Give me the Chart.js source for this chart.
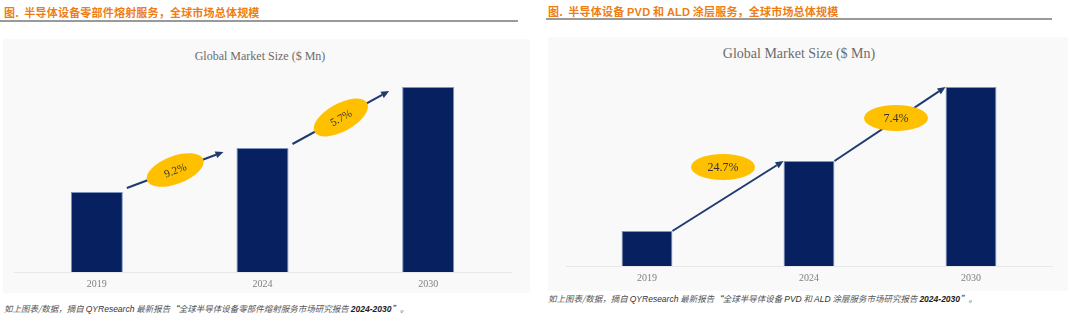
<!DOCTYPE html>
<html>
<head>
<meta charset="utf-8">
<script src="https://cdn.jsdelivr.net/npm/chart.js@4.4.1/dist/chart.umd.min.js"></script>
<style>
    body { margin: 0; width: 1080px; height: 326px; background: #fff; position: relative; overflow: hidden; }
    .abs { position: absolute; }
    .head { font: bold 11px "Noto Sans CJK SC", sans-serif; color: #ee7d14; white-space: nowrap; letter-spacing: 0.2px; }
    .head b { font-family: "Liberation Sans", Arial, sans-serif; }
    .rule { background: #9a9a9a; height: 2px; }
    .panel { background: #f9f9f9; }
    .ctitle { font-family: "Liberation Serif", "Times New Roman", serif; color: #6b6b6b; white-space: nowrap; transform: translate(-50%, -50%); }
    .foot { font: italic 8.5px "Noto Sans CJK SC", sans-serif; color: #555; white-space: nowrap; transform: translateY(-50%); }
    .foot b { font-family: "Liberation Sans", Arial, sans-serif; color: #222; font-weight: bold; }
    .foot i { font-family: "Liberation Sans", Arial, sans-serif; color: #333; }
</style>
</head>
<body>
    <div class="abs head" style="left:4px; top:4px;">图.&nbsp; 半导体设备零部件熔射服务，全球市场总体规模</div>
    <div class="abs rule" style="left:0; top:20px; width:518px;"></div>
    <div class="abs head" style="left:548px; top:3px;">图.&nbsp; 半导体设备 <b>PVD</b> 和 <b>ALD</b> 涂层服务，全球市场总体规模</div>
    <div class="abs rule" style="left:546px; top:18px; width:506px;"></div>

    <div class="abs panel" style="left:3px; top:39px; width:527px; height:254px;"></div>
    <div class="abs panel" style="left:548px; top:37px; width:520px; height:254px;"></div>

    <div class="abs ctitle" style="left:260px; top:56px; font-size:12px;">Global Market Size ($ Mn)</div>
    <div class="abs ctitle" style="left:799px; top:54px; font-size:14px;">Global Market Size ($ Mn)</div>

    <div class="abs" style="left:3px; top:60px; width:527px; height:236px;"><canvas id="sprayChart"></canvas></div>
    <div class="abs" style="left:548px; top:56px; width:520px; height:234px;"><canvas id="coatingChart"></canvas></div>

    <div class="abs foot" style="left:4px; top:308px;">如上图表/数据，摘自 <i>QYResearch</i> 最新报告“全球半导体设备零部件熔射服务市场研究报告 <b>2024-2030</b>”。</div>
    <div class="abs foot" style="left:548px; top:298px;">如上图表/数据，摘自 <i>QYResearch</i> 最新报告“全球半导体设备 <i>PVD</i> 和 <i>ALD</i> 涂层服务市场研究报告 <b>2024-2030</b>”。</div>

<script>
// Data (relative market size, no axis shown)
const years = ['2019', '2024', '2030'];
const sprayValues = [80, 124, 185];
const coatingValues = [35, 105, 179];
const sprayCagr = ['9.2%', '5.7%'];
const coatingCagr = ['24.7%', '7.4%'];

const barColor = '#072060';
const arrowColor = '#1f3a6e';
const badgeColor = '#ffc000';

// Arrow + CAGR badge between neighbouring bars
const growthArrows = {
    id: 'growthArrows',
    afterDatasetsDraw(chart, args, opts) {
        const bars = chart.getDatasetMeta(0).data;
        const ctx = chart.ctx;
        opts.labels.forEach((label, i) => {
            const a = bars[i], b = bars[i + 1];
            let x0, y0, x1, y1;
            if (opts.mode === 'corner') {
                x0 = a.x + a.width / 2; y0 = a.y;
                x1 = b.x - b.width / 2; y1 = b.y;
            } else {
                x0 = a.x + a.width / 2 + 4; y0 = a.y - 4;
                x1 = b.x - b.width / 2 - 13; y1 = b.y + 4;
            }
            const ang = Math.atan2(y1 - y0, x1 - x0);
            const head = 8;

            ctx.save();
            ctx.strokeStyle = arrowColor;
            ctx.fillStyle = arrowColor;
            ctx.lineWidth = 2;
            ctx.beginPath();
            ctx.moveTo(x0, y0);
            ctx.lineTo(x1 - head * Math.cos(ang), y1 - head * Math.sin(ang));
            ctx.stroke();
            ctx.translate(x1, y1);
            ctx.rotate(ang);
            ctx.beginPath();
            ctx.moveTo(0, 0);
            ctx.lineTo(-head, -3.5);
            ctx.lineTo(-head, 3.5);
            ctx.closePath();
            ctx.fill();
            ctx.restore();

            // badge
            let cx = (x0 + x1) / 2, cy = (y0 + y1) / 2, rot = ang;
            if (opts.mode === 'corner') {
                cx += opts.shift[i][0];
                cy += opts.shift[i][1];
                rot = 0;
            }
            ctx.save();
            ctx.translate(cx, cy);
            ctx.rotate(rot);
            ctx.fillStyle = badgeColor;
            ctx.beginPath();
            ctx.ellipse(0, 0, opts.rx, opts.ry, 0, 0, Math.PI * 2);
            ctx.fill();
            ctx.fillStyle = '#333';
            ctx.font = opts.font;
            ctx.textAlign = 'center';
            ctx.textBaseline = 'middle';
            ctx.fillText(label, 0, 1);
            ctx.restore();
        });
    }
};

function makeChart(id, values, arrowOpts, padding) {
    return new Chart(document.getElementById(id), {
        type: 'bar',
        data: {
            labels: years,
            datasets: [{
                data: values,
                backgroundColor: barColor,
                borderColor: '#7f93c0',
                borderWidth: 1,
                categoryPercentage: 1,
                barPercentage: 0.314
            }]
        },
        options: {
            responsive: true,
            maintainAspectRatio: false,
            animation: false,
            layout: { padding: padding },
            plugins: {
                legend: { display: false },
                tooltip: { enabled: false },
                growthArrows: arrowOpts
            },
            scales: {
                x: {
                    grid: { display: false, drawTicks: false },
                    border: { display: true, color: '#e8e8e8', width: 1 },
                    ticks: {
                        padding: 6,
                        color: '#808080',
                        font: { family: '"Liberation Serif", "Times New Roman", serif', size: 10 }
                    }
                },
                y: { display: false, min: 0, max: 200 }
            }
        },
        plugins: [growthArrows]
    });
}

makeChart('sprayChart', sprayValues, {
    labels: sprayCagr,
    mode: 'float',
    rx: 30, ry: 14,
    font: '11px "Liberation Serif", serif'
}, { left: 11, right: 19, top: 12, bottom: 0 });

makeChart('coatingChart', coatingValues, {
    labels: coatingCagr,
    mode: 'corner',
    shift: [[-5, -29], [6, -6]],
    rx: 32, ry: 13,
    font: '12px "Liberation Serif", serif'
}, { left: 18, right: 16, top: 10, bottom: 0 });
</script>
</body>
</html>
